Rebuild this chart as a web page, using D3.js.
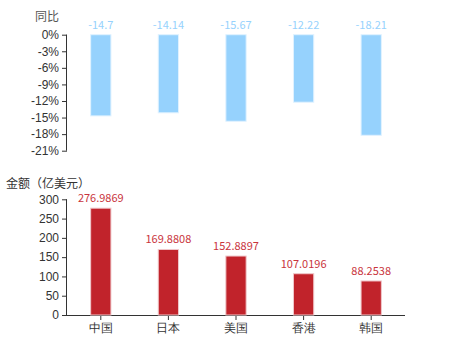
<!DOCTYPE html>
<html><head><meta charset="utf-8">
<script src="https://cdn.jsdelivr.net/npm/d3@7"></script>
<style>body{margin:0;background:#fff}svg{display:block;font-family:"Noto Sans CJK SC","Microsoft YaHei",sans-serif}</style>
</head><body>
<svg id="c" width="450" height="350"></svg>
<script>
const categories = ["中国","日本","美国","香港","韩国"];
const yoyValues = [-14.7,-14.14,-15.67,-12.22,-18.21];
const amountValues = [276.9869,169.8808,152.8897,107.0196,88.2538];
const yoyTicks = [0,-3,-6,-9,-12,-15,-18,-21];
const amountTicks = [0,50,100,150,200,250,300];

const svg = d3.select("#c");
const x = d3.scaleBand().domain(categories).range([67,405]);
const bw = x.bandwidth()*0.3;

// top chart
const yTop = d3.scaleLinear().domain([-21,0]).range([150.7,34.7]);
const gTop = svg.append("g").attr("transform","translate(67,0)")
  .call(d3.axisLeft(yTop).tickValues(yoyTicks).tickFormat(d=>d+"%").tickSize(5).tickPadding(3));
gTop.select(".domain").attr("stroke","#333").attr("d",`M-0.5,${yTop(0)}V${yTop(-21)}`);
svg.append("text").attr("x",47).attr("y",21).attr("text-anchor","middle").attr("font-size",12).attr("fill","#555").text("同比");
svg.selectAll(".tb").data(yoyValues).join("rect")
  .attr("x",(d,i)=>x(categories[i])+x.bandwidth()/2-bw/2).attr("width",bw)
  .attr("y",yTop(0)).attr("height",d=>yTop(d)-yTop(0))
  .attr("fill","#96d2fd").attr("stroke","#e0f2ff").attr("stroke-width",1);
svg.selectAll(".tl").data(yoyValues).join("text")
  .attr("x",(d,i)=>x(categories[i])+x.bandwidth()/2).attr("y",yTop(0)-6)
  .attr("text-anchor","middle").attr("font-size",11).attr("fill","#96d2fd").text(d=>d);

// bottom chart
const yBot = d3.scaleLinear().domain([0,300]).range([315,199.3]);
const gB = svg.append("g").attr("transform","translate(67,0)")
  .call(d3.axisLeft(yBot).tickValues(amountTicks).tickSize(5).tickPadding(3));
gB.select(".domain").attr("stroke","#333").attr("d",`M-0.5,${yBot(0)}V${yBot(300)}`);
const gX = svg.append("g").attr("transform",`translate(0,${yBot(0)})`)
  .call(d3.axisBottom(x).tickSize(5).tickPadding(3));
gX.select(".domain").attr("stroke","#333").attr("d",`M67,0.5H405`);
svg.append("text").attr("x",6).attr("y",188).attr("font-size",12).attr("fill","#333").text("金额（亿美元）");
svg.selectAll(".bb").data(amountValues).join("rect")
  .attr("x",(d,i)=>x(categories[i])+x.bandwidth()/2-bw/2).attr("width",bw)
  .attr("y",d=>yBot(d)).attr("height",d=>yBot(0)-yBot(d))
  .attr("fill","#c1232b").attr("stroke","#f0c8cb").attr("stroke-width",1);
svg.selectAll(".bl").data(amountValues).join("text")
  .attr("x",(d,i)=>x(categories[i])+x.bandwidth()/2).attr("y",d=>yBot(d)-6)
  .attr("text-anchor","middle").attr("font-size",11).attr("fill","#c9343c").text(d=>d);

svg.selectAll(".tick text").attr("font-size",12).attr("fill","#333");
svg.selectAll(".tick line").attr("stroke","#333");
</script>
</body></html>
